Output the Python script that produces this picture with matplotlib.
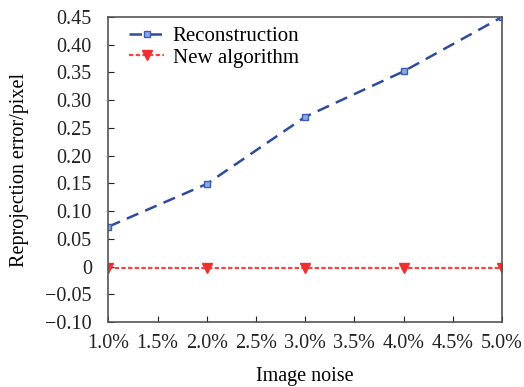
import numpy as np
import matplotlib.pyplot as plt
from matplotlib.ticker import FuncFormatter

plt.rcParams['font.family'] = ['Liberation Serif', 'DejaVu Serif']

noise = [1.0, 2.0, 3.0, 4.0, 5.0]
reconstruction = [0.072, 0.149, 0.270, 0.352, 0.450]
new_algorithm = [-0.002, -0.002, -0.002, -0.002, -0.002]


def ytick_fmt(v, pos):
    if abs(v) < 1e-9:
        return '0'
    s = f"{abs(v):.2f}"
    return ('\u2212' + s) if v < 0 else s


fig, ax = plt.subplots(figsize=(5.24, 3.87), dpi=100)
fig.subplots_adjust(left=0.207, right=0.958, top=0.956, bottom=0.168)

ax.plot(noise, reconstruction, linestyle=(0, (5, 3)), color='#2f4c9a', linewidth=1.8,
        marker='s', markersize=5, markerfacecolor='#8fa8e0', markeredgecolor='#3a5cb8',
        markeredgewidth=1.0, label='Reconstruction')
ax.plot(noise, new_algorithm, linestyle=(0, (2, 1)), color='#f04848', linewidth=1.6,
        marker='v', markersize=7, markerfacecolor='#f03030', markeredgecolor='#f03030',
        label='New algorithm')

ax.set_xlim(1.0, 5.0)
ax.set_ylim(-0.10, 0.45)
ax.set_xticks(np.arange(1.0, 5.01, 0.5))
ax.xaxis.set_major_formatter(FuncFormatter(lambda v, p: f"{v:.1f}%"))
ax.set_yticks(np.arange(-0.10, 0.451, 0.05))
ax.yaxis.set_major_formatter(FuncFormatter(ytick_fmt))

ax.tick_params(direction='in', length=4, labelsize=14.5, colors='#222222')
ax.tick_params(axis='y', pad=12)
ax.tick_params(axis='x', pad=9)
for s in ax.spines.values():
    s.set_color('#555555')
    s.set_linewidth(1.2)

ax.set_xlabel('Image noise', fontsize=14.5, labelpad=10)
ax.set_ylabel('Reprojection error/pixel', fontsize=14.5, labelpad=12)

ax.legend(loc='upper left', frameon=False, fontsize=15, handlelength=1.7,
          handletextpad=0.4, labelspacing=0.1, borderaxespad=0.2,
          bbox_to_anchor=(0.02, 1.01))

fig.savefig('out.png', dpi=100)
